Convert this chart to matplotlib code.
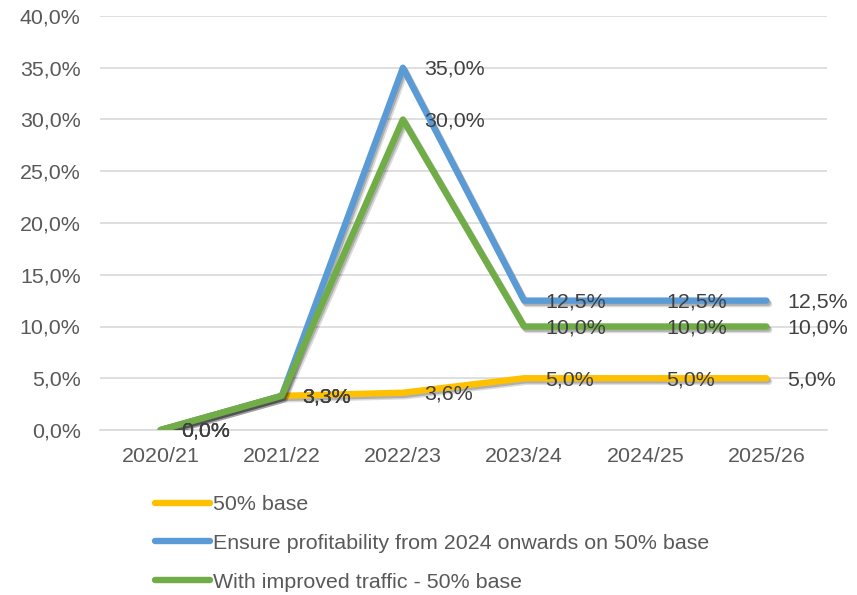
import matplotlib
matplotlib.use('Agg')
import matplotlib.pyplot as plt
import matplotlib.patheffects as pe
from matplotlib.lines import Line2D
from matplotlib.ticker import FuncFormatter

plt.rcParams['font.family'] = ['Liberation Sans', 'DejaVu Sans']

years = ['2020/21', '2021/22', '2022/23', '2023/24', '2024/25', '2025/26']
base_50 = [0.0, 3.3, 3.6, 5.0, 5.0, 5.0]
profit_2024 = [0.0, 3.3, 35.0, 12.5, 12.5, 12.5]
improved_traffic = [0.0, 3.3, 30.0, 10.0, 10.0, 10.0]

names = ['50% base',
         'Ensure profitability from 2024 onwards on 50% base',
         'With improved traffic - 50% base']
colors = ['#FFC000', '#5B9BD5', '#70AD47']
series = [base_50, profit_2024, improved_traffic]

fs = 15.4

fig = plt.figure(figsize=(8.57, 5.95), dpi=100)
ax = fig.add_axes([100 / 857, 1 - 430 / 595, 727 / 857, 414 / 595])

x = list(range(len(years)))
# soft-ish drop shadow like the office chart
shadow = [pe.SimpleLineShadow(offset=(2, -2.5), shadow_color='black', alpha=0.14),
          pe.SimpleLineShadow(offset=(1, -1.5), shadow_color='black', alpha=0.2),
          pe.Normal()]

for vals, col in zip(series, colors):
    ax.plot(x, vals, color=col, lw=4.6, solid_capstyle='round',
            solid_joinstyle='round', path_effects=shadow, zorder=3)
    for xi, v in zip(x, vals):
        ax.annotate(f'{v:.1f}%'.replace('.', ','), (xi, v), xytext=(15, -1),
                    textcoords='offset points', va='center', ha='left',
                    fontsize=fs, color='#404040', zorder=4)

ax.set_xlim(-0.5, len(years) - 0.5)
ax.set_ylim(0, 40)
ax.set_yticks(range(0, 41, 5))
ax.yaxis.set_major_formatter(FuncFormatter(lambda v, p: f'{v:.1f}%'.replace('.', ',')))
ax.set_xticks(x)
ax.set_xticklabels(years)
ax.grid(axis='y', color='#D9D9D9', lw=1.2)
ax.set_axisbelow(True)
for s in ['top', 'right', 'left']:
    ax.spines[s].set_visible(False)
ax.spines['bottom'].set_color('#D9D9D9')
ax.spines['bottom'].set_linewidth(1.2)
ax.tick_params(axis='y', length=0, pad=14, labelsize=fs, labelcolor='#595959')
ax.tick_params(axis='x', length=0, pad=12, labelsize=fs, labelcolor='#595959')

handles = [Line2D([0], [0], color=c, lw=4.6, solid_capstyle='round') for c in colors]
fig.legend(handles, names, loc='upper left', bbox_to_anchor=(155 / 857, 1 - 495 / 595),
           frameon=False, fontsize=fs, labelcolor='#595959', handlelength=2.55,
           handletextpad=0.15, labelspacing=0.93, borderpad=0, borderaxespad=0)

fig.savefig('out.png', dpi=100)
